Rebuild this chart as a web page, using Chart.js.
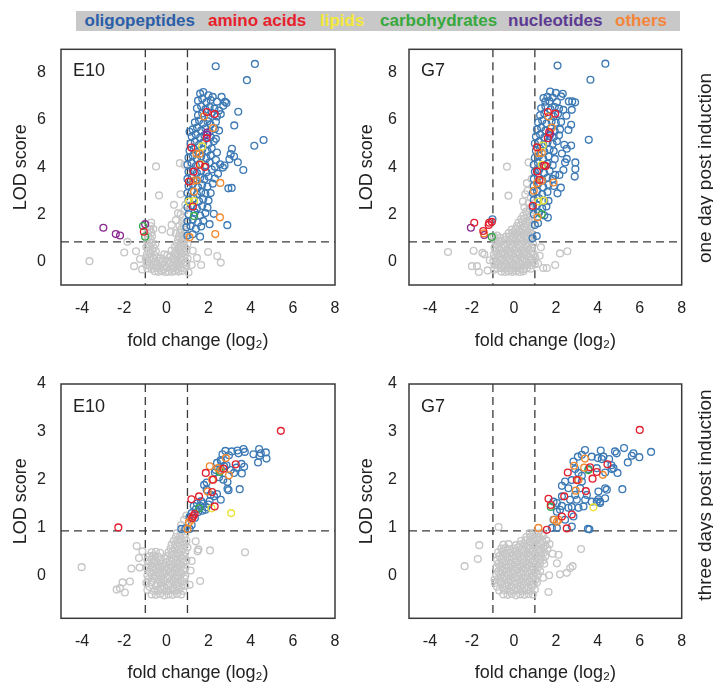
<!DOCTYPE html>
<html><head><meta charset="utf-8">
<script src="https://cdn.jsdelivr.net/npm/chart.js@4.4.0/dist/chart.umd.min.js"></script>
<style>
body{margin:0;background:#fff;width:713px;height:685px;position:relative;overflow:hidden;font-family:"Liberation Sans","DejaVu Sans",Arial,sans-serif;}
#legend{position:absolute;left:76px;top:11px;width:604px;height:20px;background:#c8c8c8;}
#legend span{position:absolute;top:0;line-height:20px;font-weight:bold;font-size:17px;white-space:nowrap;}
canvas{position:absolute;}
.side{position:absolute;font-size:19px;white-space:nowrap;transform:translate(-50%,-50%) rotate(-90deg);color:#222;}
</style></head><body>
<div id="legend"></div>
<canvas id="c1" width="350" height="320" style="left:0;top:40px"></canvas>
<canvas id="c2" width="345" height="320" style="left:350px;top:40px"></canvas>
<canvas id="c3" width="350" height="310" style="left:0;top:375px"></canvas>
<canvas id="c4" width="345" height="310" style="left:350px;top:375px"></canvas>
<div class="side" style="left:705px;top:168px">one day post induction</div>
<div class="side" style="left:705px;top:495px">three days post induction</div>
<script>
// ---------- categories & ticks ----------
const categories = ['oligopeptides','amino acids','lipids','carbohydrates','nucleotides','others'];
const categoryColors = ['#2b5ea8','#e8202a','#f3e83a','#36a83c','#5c3a93','#f4853a'];
const xTickValues = [-4,-2,0,2,4,6,8];
const yTicksDay1 = [0,2,4,6,8];
const yTicksDay3 = [0,1,2,3,4];
const panelLabels = ['E10','G7','E10','G7'];

// ---------- E10, one day ----------
const e10d1_oligo = [[1.6,7.12],[1.75,7.19],[2.0,7.05],[2.2,6.98],[2.62,6.98],
[1.5,6.82],[1.7,6.9],[1.9,6.75],[2.1,6.85],[2.4,6.78],[2.78,6.77],[2.85,6.72],
[1.45,6.5],[1.65,6.58],[1.85,6.45],[2.05,6.55],[2.28,6.48],[2.5,6.4],[2.7,6.6],
[1.5,6.2],[1.7,6.28],[2.0,6.1],[2.15,6.3],[2.4,6.15],[2.58,6.25],
[1.35,5.9],[1.55,5.98],[1.75,5.85],[1.95,5.95],[2.1,5.8],[2.35,5.92],[3.22,5.77],
[1.25,5.6],[1.45,5.68],[1.65,5.55],[1.85,5.65],[2.05,5.5],[2.3,5.62],[2.5,5.55],[1.1,5.5],
[1.2,5.3],[1.4,5.38],[1.6,5.25],[1.8,5.35],[2.1,5.28],[2.35,5.2],
[1.15,5.0],[1.35,5.08],[1.55,4.95],[1.75,5.05],[2.0,4.98],[2.25,5.1],[4.17,4.91],[4.61,5.15],
[1.1,4.7],[1.3,4.78],[1.5,4.65],[1.7,4.75],[1.95,4.68],[2.15,4.8],[2.4,4.62],[3.11,4.78],
[1.05,4.4],[1.25,4.48],[1.45,4.35],[1.65,4.45],[1.9,4.38],[2.1,4.5],[2.35,4.3],[3.05,4.55],[3.21,4.45],[2.99,4.34],
[1.0,4.1],[1.2,4.18],[1.4,4.05],[1.6,4.15],[1.85,4.08],[2.05,4.2],[2.3,4.02],[2.55,4.12],[2.76,4.07],[3.39,4.21],[2.68,3.98],
[1.05,3.8],[1.25,3.88],[1.45,3.75],[1.65,3.85],[1.9,3.78],[2.15,3.9],[2.45,3.72],[3.65,3.88],
[1.0,3.5],[1.2,3.58],[1.4,3.45],[1.6,3.55],[1.8,3.48],[2.0,3.6],[2.3,3.52],
[1.05,3.2],[1.25,3.28],[1.5,3.15],[1.7,3.25],[1.95,3.18],[2.2,3.3],[2.94,3.1],[3.1,3.12],
[1.0,2.9],[1.2,2.98],[1.45,2.85],[1.65,2.95],[1.85,2.88],[2.1,2.9],
[1.05,2.6],[1.3,2.68],[1.55,2.55],[1.75,2.65],[2.0,2.58],
[1.0,2.3],[1.2,2.38],[1.45,2.25],[1.7,2.35],[1.95,2.28],
[1.05,2.0],[1.35,2.08],[1.6,1.95],[1.85,2.05],[2.25,2.02],
[1.0,1.7],[1.25,1.78],[1.5,1.65],[1.75,1.72],
[0.95,1.45],[1.15,1.5],[1.4,1.38],[1.65,1.48],[2.05,1.58],[2.89,1.54],
[1.0,1.1],[1.25,1.15],[1.6,1.05],
[2.34,8.28],[4.2,8.38],[3.82,7.69],[3.41,6.35]];
const e10d1_amino = [[1.92,6.34],[2.29,6.25],[1.91,5.23],[1.18,4.83],[1.58,4.1],[1.83,4.01],[1.29,3.81],[1.07,3.39],[1.26,2.33],[-1.07,1.26]];
const e10d1_lipid = [[1.7,4.88],[1.62,4.12],[1.07,2.54],[1.31,2.56]];
const e10d1_carb = [[1.31,1.93],[-1.11,1.5],[-1.01,1.05]];
const e10d1_nucl = [[-2.99,1.43],[-2.4,1.16],[-2.2,1.1],[-1.01,1.58],[1.94,5.47],[1.94,5.37]];
const e10d1_other = [[1.28,3.42],[1.45,3.44],[1.31,2.96],[2.56,3.33],[1.78,6.15],[2.21,5.66],[1.42,4.57],[1.58,4.57],[2.54,1.87],[2.32,1.16],[1.1,1.03]];
const e10d1_gray = [[-0.55,-0.42],[-0.38,-0.44],[-0.22,-0.41],[-0.05,-0.45],[0.1,-0.43],[0.27,-0.44],[0.42,-0.41],[0.58,-0.43],[0.75,-0.4],
[-0.9,-0.3],[-0.7,-0.32],[-0.48,-0.28],[-0.3,-0.3],[-0.12,-0.33],[0.03,-0.28],[0.2,-0.31],[0.35,-0.29],[0.52,-0.32],[0.68,-0.28],[0.85,-0.3],[1.05,-0.47],
[-0.95,-0.15],[-0.78,-0.17],[-0.6,-0.13],[-0.42,-0.16],[-0.25,-0.14],[-0.08,-0.17],[0.12,-0.12],[0.3,-0.16],[0.45,-0.13],[0.62,-0.15],[0.8,-0.12],[0.95,-0.16],
[-0.88,0.0],[-0.7,0.03],[-0.52,-0.02],[-0.35,0.02],[-0.18,0.0],[0.05,0.03],[0.22,-0.01],[0.4,0.02],[0.55,0.0],[0.72,0.03],[0.9,-0.02],
[-0.98,0.15],[-0.8,0.17],[-0.62,0.13],[-0.45,0.16],[-0.28,0.14],[0.15,0.17],[0.32,0.13],[0.5,0.16],[0.66,0.14],[0.83,0.17],[1.0,0.13],
[-0.92,0.3],[-0.75,0.32],[-0.58,0.28],[-0.1,0.3],[0.05,0.27],[0.38,0.31],[0.55,0.29],[0.7,0.32],[0.88,0.28],
[-0.85,0.45],[-0.68,0.47],[-0.5,0.43],[0.25,0.46],[0.45,0.44],[0.6,0.47],[0.78,0.43],[0.95,0.46],
[-0.95,0.6],[-0.78,0.62],[-0.6,0.58],[0.4,0.61],[0.58,0.59],[0.72,0.62],[0.9,0.58],
[-0.88,0.75],[-0.7,0.77],[-0.52,0.73],[0.5,0.76],[0.65,0.74],[0.82,0.77],[1.0,0.73],
[-0.92,0.9],[-0.75,0.92],[0.55,0.91],[0.72,0.89],[0.88,0.92],
[-0.85,1.05],[-0.68,1.07],[0.6,1.06],[0.78,1.04],[0.95,1.07],
[-0.9,1.2],[-0.72,1.22],[0.65,1.21],[0.85,1.19],
[-0.8,1.35],[-0.62,1.37],[0.7,1.36],[0.9,1.34],
[-0.75,1.5],[0.62,1.51],[0.82,1.49],[-0.72,1.65],[0.75,1.66],
[0.78,1.85],[0.68,2.0],[0.85,2.15],[0.55,2.05],[0.25,1.55],[0.45,1.75],[0.9,2.4],[0.36,2.4],[0.67,2.85],[0.64,4.17],[0.86,4.1],[0.2,1.25],[0.45,1.2],[-0.2,1.35],
[-0.49,4.03],[-0.35,2.8],[-3.65,0.01],[-1.85,0.83],[-2.0,0.38],[-1.44,0.43],[-1.53,-0.2],[-1.15,-0.34],[-1.25,0.1],
[1.98,0.4],[2.41,0.23],[2.58,-0.05],[1.45,0.15],[1.25,0.45],[1.2,-0.15],[1.65,-0.15]];

// ---------- G7, one day ----------
const g7d1_oligo = [[1.73,7.21],[2.0,7.15],[2.33,7.11],
[1.41,6.93],[1.6,6.98],[1.85,6.95],[2.25,7.0],
[1.5,6.78],[1.7,6.8],[2.05,6.76],[2.62,6.79],[2.78,6.79],[2.92,6.75],
[1.3,6.5],[1.5,6.58],[1.75,6.45],[1.95,6.55],[2.15,6.48],[2.36,6.43],[2.76,6.43],
[1.25,6.2],[1.45,6.28],[1.9,6.15],[2.1,6.25],[2.5,6.18],
[1.15,5.9],[1.35,5.98],[1.55,5.85],[1.8,5.95],[2.0,5.88],[2.25,5.92],[2.73,5.8],
[1.1,5.6],[1.3,5.68],[1.5,5.55],[1.75,5.65],[1.95,5.52],[2.2,5.6],[2.6,5.58],
[1.05,5.3],[1.25,5.38],[1.45,5.25],[1.7,5.32],[1.9,5.28],[2.15,5.35],[3.57,5.16],
[1.0,5.0],[1.2,5.08],[1.4,4.95],[1.6,5.05],[1.85,4.98],[2.05,5.1],[2.4,4.95],
[1.05,4.7],[1.25,4.78],[1.45,4.65],[1.7,4.75],[1.9,4.68],[2.52,4.78],[2.73,4.92],
[1.0,4.4],[1.2,4.48],[1.4,4.35],[1.65,4.45],[2.29,4.58],[2.52,4.35],[2.44,4.2],[1.95,4.35],
[0.95,4.1],[1.15,4.18],[1.35,4.05],[1.6,4.15],[1.85,4.08],[2.93,4.2],
[1.0,3.8],[1.2,3.88],[1.45,3.75],[1.7,3.85],[2.36,3.88],[2.17,3.67],[1.97,3.67],[2.93,3.92],
[0.95,3.5],[1.15,3.58],[1.35,3.45],[1.6,3.55],[1.85,3.5],[2.9,3.6],
[0.95,3.2],[1.15,3.28],[1.4,3.15],[1.65,3.25],[2.24,3.13],[1.9,3.2],
[0.9,2.9],[1.1,2.98],[1.35,2.85],[1.6,2.95],[2.08,2.89],
[0.95,2.6],[1.2,2.68],[1.45,2.55],[1.65,2.57],
[0.9,2.3],[1.1,2.38],[1.35,2.25],[1.55,2.33],
[0.95,2.0],[1.2,2.08],[1.45,1.95],[1.62,1.86],
[1.0,1.55],[1.15,1.62],[1.09,1.08],[0.89,0.98],
[2.08,8.31],[4.36,8.39],[3.65,7.71],[-1.02,1.79]];
const g7d1_amino = [[1.62,6.34],[1.97,6.27],[1.68,5.49],[1.62,5.23],[1.1,4.84],[1.44,4.07],[1.52,4.05],[1.1,3.82],[1.22,3.46],[0.9,2.36],[-1.89,1.64],[-1.46,1.29],[-1.18,1.64],[-1.05,1.68],[-1.2,1.55]];
const g7d1_lipid = [[1.38,4.92],[1.33,4.1],[1.17,2.54],[1.41,2.58]];
const g7d1_carb = [[1.33,2.0],[-1.05,1.04]];
const g7d1_nucl = [[1.73,5.42],[-2.05,1.43],[-1.41,1.12]];
const g7d1_other = [[1.65,6.15],[1.81,5.68],[1.17,4.6],[1.33,4.6],[1.33,3.42],[1.89,3.35],[1.1,3.32],[0.95,3.0],[1.13,1.87],[-1.43,1.19]];
const g7d1_gray = [[-0.6,-0.43],[-0.42,-0.45],[-0.25,-0.42],[-0.08,-0.44],[0.1,-0.42],[0.28,-0.45],[0.45,-0.42],
[-0.95,-0.35],[-0.78,-0.3],[-0.6,-0.28],[-0.42,-0.31],[-0.25,-0.29],[-0.08,-0.32],[0.1,-0.28],[0.28,-0.3],[0.45,-0.33],[0.62,-0.29],[0.8,-0.31],
[-0.92,-0.15],[-0.75,-0.13],[-0.58,-0.17],[-0.4,-0.14],[-0.22,-0.16],[-0.05,-0.13],[0.12,-0.17],[0.3,-0.14],[0.48,-0.16],[0.65,-0.13],[0.82,-0.16],[1.0,-0.12],
[-0.98,0.02],[-0.8,0.0],[-0.62,0.03],[-0.45,-0.01],[-0.28,0.02],[-0.1,0.0],[0.08,0.03],[0.25,-0.01],[0.42,0.02],[0.6,0.0],[0.78,0.03],[0.95,-0.01],
[-0.9,0.15],[-0.72,0.17],[-0.55,0.13],[-0.38,0.16],[-0.2,0.14],[-0.02,0.17],[0.15,0.13],[0.32,0.16],[0.5,0.14],[0.68,0.17],[0.85,0.13],[1.02,0.16],
[-0.95,0.3],[-0.78,0.28],[-0.6,0.32],[-0.42,0.29],[-0.25,0.31],[-0.08,0.28],[0.1,0.32],[0.28,0.29],[0.45,0.31],[0.62,0.28],[0.8,0.32],[0.97,0.29],
[-0.88,0.45],[-0.7,0.47],[-0.52,0.43],[-0.35,0.46],[-0.18,0.44],[0.0,0.47],[0.18,0.43],[0.35,0.46],[0.52,0.44],[0.7,0.47],[0.88,0.43],
[-0.92,0.6],[-0.75,0.62],[-0.58,0.58],[-0.4,0.61],[-0.22,0.59],[-0.05,0.62],[0.12,0.58],[0.3,0.61],[0.48,0.59],[0.65,0.62],[0.83,0.58],
[-0.85,0.75],[-0.68,0.77],[-0.5,0.73],[-0.32,0.76],[-0.15,0.74],[0.05,0.77],[0.22,0.73],[0.4,0.76],[0.58,0.74],[0.75,0.77],[0.92,0.73],
[-0.9,0.9],[-0.72,0.88],[-0.45,0.92],[-0.28,0.89],[-0.1,0.91],[0.08,0.88],[0.25,0.92],[0.42,0.89],[0.6,0.91],[0.78,0.88],
[-0.95,1.05],[-0.8,1.1],[-0.65,1.0],[-0.38,1.05],[-0.2,1.07],[0.0,1.03],[0.18,1.06],[0.35,1.04],[0.52,1.07],[0.7,1.03],[0.88,1.06],
[-0.25,1.2],[-0.05,1.22],[0.12,1.18],[0.3,1.21],[0.48,1.19],[0.65,1.22],[0.82,1.18],
[-0.1,1.35],[0.08,1.37],[0.25,1.33],[0.42,1.36],[0.6,1.34],[0.78,1.37],
[0.15,1.5],[0.32,1.52],[0.5,1.48],[0.68,1.51],[0.85,1.49],
[0.22,1.65],[0.4,1.67],[0.58,1.63],[0.75,1.66],
[0.35,1.8],[0.52,1.82],[0.7,1.78],[0.88,1.81],
[0.45,1.95],[0.62,1.97],[0.8,1.93],
[0.59,2.11],[0.7,2.47],[0.43,2.54],[0.54,2.85],[0.62,3.32],[0.7,4.2],[0.94,4.09],[0.75,2.25],[0.5,2.3],[0.8,2.7],[0.65,3.0],[0.85,3.5],
[-0.33,4.02],[-0.26,2.79],[-3.14,0.4],[-1.92,0.45],[-2.0,-0.2],[-1.76,-0.2],[-1.67,-0.45],[-1.5,0.36],[-1.41,0.3],[-1.25,-0.38],[-1.15,0.05],
[2.2,0.34],[2.55,0.43],[1.97,-0.15],[1.4,-0.28],[1.57,-0.28],[1.23,0.24],[1.29,0.6],[1.15,-0.1]];

// ---------- E10, three days ----------
const e10d3_oligo = [[4.4,2.64],[4.13,2.53],[4.48,2.55],[4.72,2.57],[4.75,2.44],[4.35,2.36],[4.42,2.5],
[3.66,2.64],[3.72,2.58],[3.37,2.61],[3.42,2.55],[3.1,2.59],[2.97,2.51],[2.66,2.53],[2.8,2.6],
[3.56,2.33],[3.69,2.27],[3.58,2.13],[3.32,2.25],[3.21,2.14],[3.05,2.2],
[2.9,1.81],[2.95,1.78],[3.48,1.8],
[2.6,2.38],[2.4,2.35],[2.3,2.15],[2.5,2.05],[2.7,2.0],[2.85,2.3],[2.9,1.95],
[2.55,2.2],[2.34,2.2],[2.58,2.41],[2.74,2.28],
[1.91,1.94],[1.79,1.89],[1.91,1.79],[2.1,1.68],[2.26,1.65],[2.58,1.58],[2.4,1.7],[2.05,1.55],
[1.65,1.55],[1.45,1.5],[1.6,1.45],[1.75,1.5],[1.9,1.42],[2.0,1.48],[1.4,1.38],[1.7,1.35],[1.5,1.32],[1.85,1.37],[1.3,1.45],
[1.2,1.3],[1.35,1.2],[1.1,1.22],
[0.71,0.97],[0.9,0.98],[1.1,0.97],[1.2,1.05]];
const e10d3_amino = [[5.43,3.02],[3.29,2.32],[2.71,2.23],[1.87,2.14],[2.22,2.0],[2.17,1.74],[1.19,1.59],[1.55,1.65],[2.29,1.44],[1.34,1.28],[1.23,1.2],[1.28,1.24],[-2.28,1.0]];
const e10d3_lipid = [[2.14,1.4],[3.07,1.3]];
const e10d3_carb = [[1.55,1.4],[2.53,2.16]];
const e10d3_nucl = [];
const e10d3_other = [[2.06,2.28],[2.82,2.45],[2.45,2.24],[2.58,2.19],[2.17,2.0],[2.97,2.09],[1.96,1.75],[1.19,1.16],[1.07,1.11],[1.0,0.97]];
const e10d3_gray = [[-0.7,-0.4],[-0.5,-0.41],[-0.3,-0.39],[-0.1,-0.42],[0.1,-0.4],[0.3,-0.41],[0.5,-0.39],[0.7,-0.4],
[-0.9,-0.31],[-0.6,-0.33],[-0.4,-0.32],[-0.2,-0.3],[0.0,-0.33],[0.2,-0.31],[0.4,-0.32],[0.6,-0.3],[0.8,-0.33],
[-0.8,-0.24],[-0.5,-0.23],[-0.3,-0.25],[-0.1,-0.24],[0.1,-0.22],[0.3,-0.25],[0.5,-0.23],[0.7,-0.24],[0.9,-0.22],
[-0.95,-0.16],[-0.7,-0.15],[-0.45,-0.17],[-0.25,-0.16],[-0.05,-0.14],[0.15,-0.17],[0.35,-0.15],[0.55,-0.16],[0.75,-0.14],
[-0.85,-0.08],[-0.6,-0.07],[-0.35,-0.09],[-0.15,-0.08],[0.05,-0.06],[0.25,-0.09],[0.45,-0.07],[0.65,-0.08],[0.85,-0.06],
[-0.9,0.0],[-0.7,0.01],[-0.5,-0.01],[-0.3,0.0],[-0.1,0.02],[0.1,-0.01],[0.3,0.01],[0.5,0.0],[0.7,0.02],[0.9,-0.01],
[-0.8,0.08],[-0.6,0.09],[-0.4,0.07],[-0.2,0.08],[0.0,0.1],[0.2,0.07],[0.4,0.09],[0.6,0.08],[0.8,0.1],
[-0.95,0.16],[-0.7,0.17],[-0.5,0.15],[-0.3,0.16],[-0.1,0.18],[0.1,0.15],[0.3,0.17],[0.5,0.16],[0.7,0.18],[0.9,0.15],
[-0.85,0.24],[-0.6,0.25],[-0.4,0.23],[-0.2,0.24],[0.0,0.26],[0.2,0.23],[0.4,0.25],[0.6,0.24],[0.8,0.26],
[-0.9,0.32],[-0.7,0.33],[-0.5,0.31],[-0.3,0.32],[-0.05,0.34],[0.15,0.31],[0.35,0.33],[0.55,0.32],[0.75,0.34],[0.95,0.31],
[-0.8,0.4],[-0.6,0.41],[-0.4,0.39],[0.05,0.4],[0.25,0.42],[0.45,0.39],[0.65,0.41],[0.85,0.4],
[-0.7,0.48],[-0.5,0.49],[-0.3,0.47],[0.1,0.48],[0.3,0.5],[0.5,0.47],[0.7,0.49],[0.9,0.48],
[0.2,0.56],[0.4,0.57],[0.6,0.55],[0.8,0.56],[1.0,0.58],
[0.25,0.64],[0.45,0.65],[0.65,0.63],[0.85,0.64],
[0.35,0.72],[0.55,0.73],[0.75,0.71],[0.95,0.72],
[0.45,0.8],[0.65,0.81],[0.85,0.79],[0.5,0.88],[0.7,0.89],[0.9,0.87],
[0.84,1.16],[0.7,1.05],[0.95,1.25],
[-4.02,0.17],[-2.36,-0.3],[-2.2,-0.27],[-1.97,-0.36],[-2.08,-0.15],[-1.73,-0.13],[-1.66,0.14],[-1.27,0.16],[-1.41,0.61],[-1.14,0.5],[-1.3,0.36],
[1.39,0.71],[1.52,0.54],[2.07,0.52],[3.73,0.48],[1.6,-0.12],[1.2,0.3],[1.15,0.1],[1.1,-0.2],[1.48,0.5]];

// ---------- G7, three days ----------
const g7d3_oligo = [[6.54,2.58],[5.98,2.47],[5.7,2.55],[5.62,2.5],[5.25,2.66],[5.43,2.36],[5.17,1.8],
[4.94,2.14],[4.75,2.24],[4.54,2.43],[4.82,2.59],[4.9,2.55],[4.65,2.3],
[4.35,1.82],[4.43,1.79],[4.03,1.59],[4.11,1.54],[3.53,0.97],[3.6,0.96],
[4.14,2.61],[4.27,2.48],[4.0,2.45],[3.39,2.62],[3.24,2.52],[3.71,2.48],[3.05,2.48],[2.84,2.38],
[2.29,1.87],[2.6,1.82],[2.76,1.99],[3.08,2.14],[3.16,1.82],[2.92,1.68],[3.4,1.58],[3.71,1.54],
[2.29,1.45],[2.6,1.41],[3.08,1.41],[3.48,1.68],[1.89,1.16],[2.2,1.37],[2.76,1.02],[2.05,0.99],[1.81,0.99],
[3.0,1.58],[3.95,1.54],[4.35,1.61],[4.03,1.75],[2.92,2.22],[3.24,2.08],[3.56,2.22],[4.19,2.43],[4.35,2.15],[4.67,2.22],[3.95,2.24],
[3.24,1.96],[2.44,1.96],[2.05,1.51],[2.29,1.65],[2.68,1.58],[2.84,1.23],[2.44,1.16],[2.05,1.33],[1.89,1.54],[2.76,1.43],[3.32,1.44],[4.11,1.51]];
const g7d3_amino = [[6.0,3.04],[4.46,2.32],[3.63,2.26],[3.95,2.16],[3.75,2.02],[2.57,2.15],[3.0,1.99],[3.43,1.76],[2.4,1.65],[1.65,1.6],[1.76,1.47],[2.29,1.23],[2.76,1.27],[2.52,0.98],[1.57,0.95]];
const g7d3_lipid = [[3.79,1.42]];
const g7d3_carb = [[1.76,1.43],[3.55,2.2]];
const g7d3_nucl = [];
const g7d3_other = [[3.39,2.44],[2.87,2.29],[3.35,2.25],[4.24,2.1],[3.08,1.99],[2.95,1.77],[1.92,1.16],[2.13,1.16],[1.17,0.99],[2.05,1.12]];
const g7d3_gray = [[-0.5,-0.4],[-0.3,-0.41],[-0.1,-0.39],[0.1,-0.42],[0.3,-0.4],[0.5,-0.41],[0.7,-0.39],[0.9,-0.4],
[-0.7,-0.32],[-0.45,-0.31],[-0.2,-0.33],[0.0,-0.32],[0.2,-0.3],[0.4,-0.33],[0.6,-0.31],[0.8,-0.32],[1.0,-0.3],
[-0.8,-0.24],[-0.55,-0.25],[-0.35,-0.23],[-0.1,-0.24],[0.1,-0.26],[0.3,-0.23],[0.5,-0.25],[0.7,-0.24],[0.9,-0.22],
[-0.9,-0.16],[-0.65,-0.15],[-0.45,-0.17],[-0.25,-0.16],[-0.05,-0.14],[0.15,-0.17],[0.35,-0.15],[0.55,-0.16],[0.75,-0.14],[0.95,-0.17],[1.1,-0.15],
[-0.75,-0.08],[-0.55,-0.07],[-0.35,-0.09],[-0.15,-0.08],[0.05,-0.06],[0.25,-0.09],[0.45,-0.07],[0.65,-0.08],[0.85,-0.06],[1.05,-0.09],
[-0.85,0.0],[-0.65,0.01],[-0.45,-0.01],[-0.25,0.0],[-0.05,0.02],[0.15,-0.01],[0.35,0.01],[0.55,0.0],[0.75,0.02],[0.95,-0.01],[1.15,0.01],
[-0.75,0.08],[-0.55,0.09],[-0.35,0.07],[-0.15,0.08],[0.05,0.1],[0.25,0.07],[0.45,0.09],[0.65,0.08],[0.85,0.1],[1.05,0.07],[1.25,0.09],
[-0.85,0.16],[-0.65,0.17],[-0.45,0.15],[-0.25,0.16],[-0.05,0.18],[0.15,0.15],[0.35,0.17],[0.55,0.16],[0.75,0.18],[0.95,0.15],[1.15,0.17],
[-0.75,0.24],[-0.55,0.25],[-0.35,0.23],[-0.15,0.24],[0.05,0.26],[0.25,0.23],[0.45,0.25],[0.65,0.24],[0.85,0.26],[1.05,0.23],[1.25,0.25],[1.45,0.24],
[-0.8,0.32],[-0.6,0.33],[-0.4,0.31],[-0.2,0.32],[0.0,0.34],[0.2,0.31],[0.4,0.33],[0.6,0.32],[0.8,0.34],[1.0,0.31],[1.2,0.33],[1.4,0.32],
[-0.7,0.4],[-0.5,0.41],[-0.3,0.39],[-0.1,0.4],[0.1,0.42],[0.3,0.39],[0.5,0.41],[0.7,0.4],[0.9,0.42],[1.1,0.39],[1.3,0.41],[1.5,0.4],
[-0.75,0.48],[-0.55,0.49],[-0.35,0.47],[-0.15,0.48],[0.05,0.5],[0.25,0.47],[0.45,0.49],[0.65,0.48],[0.85,0.5],[1.05,0.47],[1.25,0.49],[1.45,0.48],
[-0.6,0.56],[-0.4,0.57],[-0.2,0.55],[0.0,0.56],[0.2,0.58],[0.4,0.55],[0.6,0.57],[0.8,0.56],[1.0,0.58],[1.2,0.55],[1.4,0.57],[1.6,0.56],
[-0.5,0.64],[-0.25,0.65],[0.1,0.63],[0.3,0.64],[0.5,0.66],[0.7,0.63],[0.9,0.65],[1.1,0.64],[1.3,0.66],[1.5,0.63],
[0.35,0.72],[0.55,0.73],[0.75,0.71],[0.95,0.72],[1.15,0.74],[1.35,0.71],[1.55,0.73],
[0.6,0.8],[0.8,0.81],[1.0,0.79],[1.2,0.8],[1.4,0.82],
[0.75,0.88],[0.95,0.89],[1.15,0.87],[1.35,0.88],
[-2.35,0.19],[-1.72,0.34],[-1.65,0.63],[-0.92,-0.09],[-0.73,1.01],[1.65,-0.35],[3.2,0.55],[2.8,0.19],[2.68,0.15],[2.52,0.05],[2.2,0.02],[1.68,0.0],[2.13,0.43],[2.05,0.25],[1.7,0.65],[1.85,0.45],[1.4,-0.05]];

// ---------- drawing ----------
Chart.defaults.font.family = '"Liberation Sans","DejaVu Sans",Arial,sans-serif';
Chart.defaults.color = '#222';

const pointColors = {oligo:'#3d7ab5', amino:'#e21f2f', lipid:'#ece23a', carb:'#35a64a', nucl:'#8b2a90', other:'#f2892f', gray:'#c6c6c6'};

// legend bar (HTML text)
const legendLefts = [8.5,132,244,304,432,539];
const legendEl = document.getElementById('legend');
categories.forEach((c,i)=>{
  const s = document.createElement('span');
  s.textContent = c; s.style.left = legendLefts[i]+'px'; s.style.color = categoryColors[i];
  legendEl.appendChild(s);
});

const decor = {
  id:'decor',
  beforeDatasetsDraw(chart, args, o){
    const {ctx, chartArea:a, scales:{x,y}} = chart;
    ctx.save();
    ctx.strokeStyle = '#3a3a3a'; ctx.lineWidth = 1.3; ctx.setLineDash([8,5]);
    o.vlines.forEach(v=>{
      const px = x.getPixelForValue(v);
      ctx.beginPath(); ctx.moveTo(px,a.top); ctx.lineTo(px,a.bottom); ctx.stroke();
    });
    const py = y.getPixelForValue(o.hline);
    ctx.beginPath(); ctx.moveTo(a.left,py); ctx.lineTo(a.right,py); ctx.stroke();
    ctx.restore();
  },
  afterDraw(chart, args, o){
    const {ctx, chartArea:a} = chart;
    ctx.save();
    ctx.setLineDash([]); ctx.strokeStyle = '#3a3a3a'; ctx.lineWidth = 1.5;
    ctx.strokeRect(a.left, a.top, a.right-a.left, a.bottom-a.top);
    ctx.fillStyle = '#222'; ctx.font = '18px "Liberation Sans","DejaVu Sans",Arial,sans-serif';
    ctx.textBaseline = 'middle'; ctx.textAlign = 'left';
    ctx.fillText(o.label, a.left+12, a.top+o.labelDy);
    ctx.restore();
  }
};

function ds(arr, color){
  return {data: arr.map(p=>({x:p[0], y:p[1]})), borderColor: color, backgroundColor:'rgba(0,0,0,0)',
    pointRadius:3.4, pointBorderWidth:1.35, pointHoverRadius:3.4, showLine:false};
}
function zeroPad(s){ s.paddingTop = 0; s.paddingBottom = 0; s.paddingLeft = 0; s.paddingRight = 0; }

function panel(id, o){
  new Chart(document.getElementById(id), {
    type:'scatter',
    data:{datasets:[ds(o.amino,pointColors.amino), ds(o.other,pointColors.other), ds(o.lipid,pointColors.lipid),
      ds(o.carb,pointColors.carb), ds(o.nucl,pointColors.nucl), ds(o.oligo,pointColors.oligo), ds(o.gray,pointColors.gray)]},
    options:{
      responsive:false, animation:false, events:[],
      layout:{padding:{left:0, right:o.padR, top:o.padT, bottom:0}},
      plugins:{legend:{display:false}, tooltip:{enabled:false},
        decor:{label:o.label, vlines:[-1,1], hline:o.hline, labelDy:o.labelDy}},
      scales:{
        x:{type:'linear', position:'bottom', min:-5, max:8,
          grid:{display:false, drawTicks:false}, border:{display:false},
          afterBuildTicks:s=>{s.ticks = xTickValues.map(v=>({value:v}));},
          afterFit:s=>{s.height = o.xh; zeroPad(s);},
          ticks:{font:{size:16}, color:'#222', padding:14, maxRotation:0, autoSkip:false},
          title:{display:true, text:'fold change (log₂)', font:{size:18}, color:'#222', padding:{top:0, bottom:o.xtPad}}},
        y:{type:'linear', position:'left', min:o.ymin, max:o.ymax,
          grid:{display:false, drawTicks:false}, border:{display:false},
          afterBuildTicks:s=>{s.ticks = o.yTicks.map(v=>({value:v}));},
          afterFit:s=>{s.width = o.yw; zeroPad(s);},
          ticks:{font:{size:16}, color:'#222', padding:o.ytp, autoSkip:false},
          title:{display:true, text:'LOD score', font:{size:18}, color:'#222', padding:{top:o.ytitle, bottom:0}}}
      }
    },
    plugins:[decor]
  });
}

panel('c1',{label:panelLabels[0], oligo:e10d1_oligo, amino:e10d1_amino, lipid:e10d1_lipid, carb:e10d1_carb, nucl:e10d1_nucl, other:e10d1_other, gray:e10d1_gray,
  padT:9.3, padR:15, xh:75, yw:61, ytp:15, ytitle:10, xtPad:8.5, ymin:-1, ymax:9, hline:0.83, yTicks:yTicksDay1, labelDy:22});
panel('c2',{label:panelLabels[1], oligo:g7d1_oligo, amino:g7d1_amino, lipid:g7d1_lipid, carb:g7d1_carb, nucl:g7d1_nucl, other:g7d1_other, gray:g7d1_gray,
  padT:9.3, padR:13.3, xh:75, yw:59, ytp:12, ytitle:6.5, xtPad:8.5, ymin:-1, ymax:9, hline:0.83, yTicks:yTicksDay1, labelDy:22});
panel('c3',{label:panelLabels[2], oligo:e10d3_oligo, amino:e10d3_amino, lipid:e10d3_lipid, carb:e10d3_carb, nucl:e10d3_nucl, other:e10d3_other, gray:e10d3_gray,
  padT:9, padR:15, xh:66.7, yw:61, ytp:15, ytitle:10, xtPad:1.2, ymin:-0.9, ymax:4, hline:0.93, yTicks:yTicksDay3, labelDy:23});
panel('c4',{label:panelLabels[3], oligo:g7d3_oligo, amino:g7d3_amino, lipid:g7d3_lipid, carb:g7d3_carb, nucl:g7d3_nucl, other:g7d3_other, gray:g7d3_gray,
  padT:9, padR:13.3, xh:66.7, yw:59, ytp:12, ytitle:6.5, xtPad:1.2, ymin:-0.9, ymax:4, hline:0.93, yTicks:yTicksDay3, labelDy:23});
</script>
</body></html>
